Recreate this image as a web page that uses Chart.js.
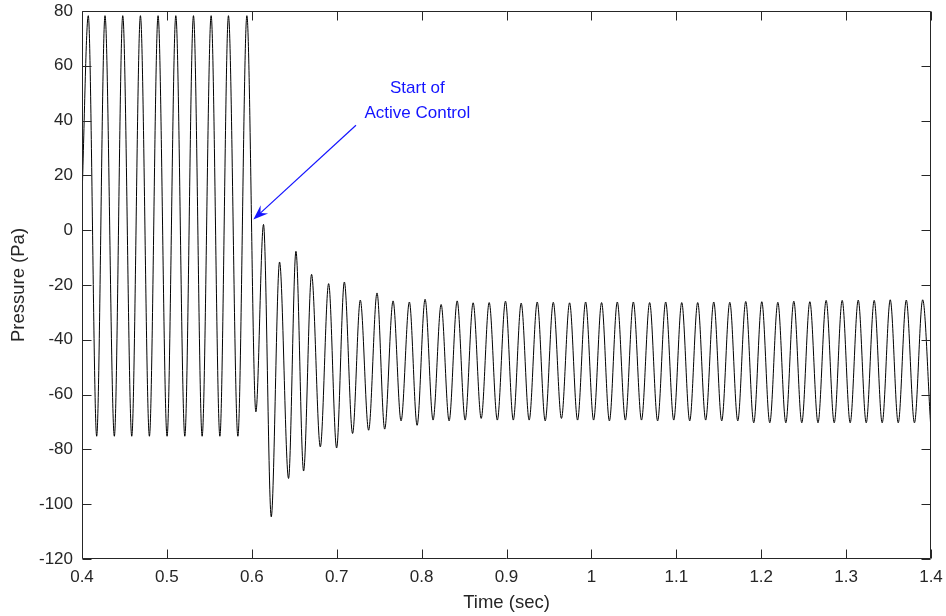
<!DOCTYPE html>
<html>
<head>
<meta charset="utf-8">
<script src="https://cdn.jsdelivr.net/npm/chart.js@4/dist/chart.umd.min.js"></script>
<style>
    html, body { margin: 0; padding: 0; background: #fff; }
    #wrap { width: 946px; height: 616px; }
</style>
</head>
<body>
<div id="wrap"><canvas id="pressureChart" width="946" height="616"></canvas></div>
<script>
// values: where the trace starts, then every peak and trough
const startTime = 0.4;
const startValue = 12;

const peakTimes = [
    0.4074, 0.4271, 0.4480, 0.4688, 0.4896, 0.5105, 0.5313, 0.5521, 0.5725, 0.5942,
    0.6138, 0.6327, 0.6520, 0.6704, 0.6905, 0.7090, 0.7278, 0.7475, 0.7664, 0.7856,
    0.8041, 0.8230, 0.8419, 0.8607, 0.8796, 0.8988, 0.9173, 0.9362, 0.9551, 0.9743,
    0.9932, 1.0120, 1.0305, 1.0494, 1.0686, 1.0875, 1.1064, 1.1252, 1.1441, 1.1630,
    1.1818, 1.2007, 1.2196, 1.2384, 1.2573, 1.2765, 1.2954, 1.3143, 1.3331, 1.3520,
    1.3709, 1.3902
];
const peakValues = [
    78.3, 78.3, 78.3, 78.3, 78.3, 78.3, 78.3, 78.3, 78.3, 78.3,
    2.1, -11.6, -7.7, -16.1, -19.5, -18.9, -25.5, -22.9, -25.8, -26.2,
    -25.2, -27.1, -25.8, -26.5, -26.4, -25.9, -26.6, -26.2, -26.3, -26.5,
    -26.2, -26.4, -26.2, -26.2, -26.4, -26.2, -26.4, -26.4, -26.2, -26.3,
    -26.0, -26.1, -26.3, -25.9, -26.1, -25.6, -25.6, -25.5, -25.6, -25.4,
    -25.5, -25.4
];

const troughTimes = [
    0.4173, 0.4381, 0.4586, 0.4794, 0.5002, 0.5211, 0.5415, 0.5624, 0.5836, 0.6048,
    0.6229, 0.6433, 0.6610, 0.6807, 0.6999, 0.7187, 0.7376, 0.7565, 0.7758, 0.7947,
    0.8135, 0.8324, 0.8513, 0.8702, 0.8892, 0.9080, 0.9267, 0.9456, 0.9647, 0.9837,
    1.0026, 1.0212, 1.0400, 1.0590, 1.0780, 1.0970, 1.1158, 1.1346, 1.1535, 1.1724,
    1.1912, 1.2101, 1.2290, 1.2478, 1.2669, 1.2860, 1.3048, 1.3237, 1.3425, 1.3614,
    1.3805, 1.3995
];
const troughValues = [
    -75.2, -75.2, -75.2, -75.2, -75.2, -75.2, -75.2, -75.2, -75.2, -66.3,
    -104.6, -90.6, -87.9, -79.1, -79.5, -74.2, -73.0, -72.6, -69.6, -71.2,
    -69.3, -69.6, -69.3, -68.7, -69.3, -69.3, -69.3, -69.6, -68.7, -69.3,
    -69.3, -69.6, -69.3, -69.3, -69.6, -69.3, -69.6, -69.3, -69.6, -69.6,
    -70.3, -70.3, -70.3, -70.3, -70.3, -70.3, -70.3, -70.3, -70.3, -70.3,
    -70.3, -70.6
];

const xTicks = [0.4, 0.5, 0.6, 0.7, 0.8, 0.9, 1.0, 1.1, 1.2, 1.3, 1.4];
const xTickLabels = ['0.4', '0.5', '0.6', '0.7', '0.8', '0.9', '1', '1.1', '1.2', '1.3', '1.4'];
const yTicks = [-120, -100, -80, -60, -40, -20, 0, 20, 40, 60, 80];
const yTickLabels = ['-120', '-100', '-80', '-60', '-40', '-20', '0', '20', '40', '60', '80'];

// annotation anchors, in data units
const noteLines = ['Start of', 'Active Control'];
const noteX = 0.795;
const noteY = [51.7, 42.6];
const arrowFrom = { x: 0.7227, y: 38.3 };
const arrowTo = { x: 0.6018, y: 3.9 };

const axisColor = '#262626';
const noteColor = '#1414ff';
const fontFamily = '"Liberation Sans", Arial, Helvetica, sans-serif';

Chart.defaults.font.family = fontFamily;

// one time-ordered trace from the start point, peaks and troughs
const trace = [{ x: startTime, y: startValue }];
peakTimes.forEach((t, i) => trace.push({ x: t, y: peakValues[i] }));
troughTimes.forEach((t, i) => trace.push({ x: t, y: troughValues[i] }));
trace.sort((a, b) => a.x - b.x);

// box round the plot with inward ticks on all four sides, like matlab
const boxAxes = {
    id: 'boxAxes',
    afterDraw(chart) {
        const { ctx, chartArea: a, scales: { x, y } } = chart;
        const len = 9;
        const l = Math.round(a.left) + 0.5, r = Math.round(a.right) - 0.5;
        const t = Math.round(a.top) + 0.5, b = Math.round(a.bottom) - 0.5;
        ctx.save();
        ctx.strokeStyle = axisColor;
        ctx.lineWidth = 1;
        ctx.beginPath();
        ctx.rect(l, t, r - l, b - t);
        xTicks.forEach(v => {
            const px = Math.round(x.getPixelForValue(v)) + 0.5;
            ctx.moveTo(px, b); ctx.lineTo(px, b - len);
            ctx.moveTo(px, t); ctx.lineTo(px, t + len);
        });
        yTicks.forEach(v => {
            const py = Math.round(y.getPixelForValue(v)) + 0.5;
            ctx.moveTo(l, py); ctx.lineTo(l + len, py);
            ctx.moveTo(r, py); ctx.lineTo(r - len, py);
        });
        ctx.stroke();
        ctx.restore();
    }
};

// "Start of Active Control" text and arrow
const noteArrow = {
    id: 'noteArrow',
    afterDraw(chart) {
        const { ctx, scales: { x, y } } = chart;
        ctx.save();
        ctx.fillStyle = noteColor;
        ctx.strokeStyle = noteColor;
        ctx.font = '17px ' + fontFamily;
        ctx.textAlign = 'center';
        ctx.textBaseline = 'middle';
        noteLines.forEach((s, i) => ctx.fillText(s, x.getPixelForValue(noteX), y.getPixelForValue(noteY[i])));

        const x0 = x.getPixelForValue(arrowFrom.x), y0 = y.getPixelForValue(arrowFrom.y);
        const x1 = x.getPixelForValue(arrowTo.x), y1 = y.getPixelForValue(arrowTo.y);
        const d = Math.hypot(x1 - x0, y1 - y0);
        const ux = (x1 - x0) / d, uy = (y1 - y0) / d;
        const nx = -uy, ny = ux;
        const L = 15, W = 5.5;
        ctx.lineWidth = 1.2;
        ctx.beginPath();
        ctx.moveTo(x0, y0);
        ctx.lineTo(x1 - ux * 8, y1 - uy * 8);
        ctx.stroke();
        ctx.beginPath();
        ctx.moveTo(x1, y1);
        ctx.lineTo(x1 - ux * L + nx * W, y1 - uy * L + ny * W);
        ctx.lineTo(x1 - ux * L * 0.65, y1 - uy * L * 0.65);
        ctx.lineTo(x1 - ux * L - nx * W, y1 - uy * L - ny * W);
        ctx.closePath();
        ctx.fill();
        ctx.restore();
    }
};

new Chart(document.getElementById('pressureChart'), {
    type: 'line',
    data: {
        datasets: [{
            data: trace,
            borderColor: '#000000',
            borderWidth: 1,
            pointRadius: 0,
            fill: false,
            cubicInterpolationMode: 'monotone'
        }]
    },
    options: {
        responsive: false,
        animation: false,
        layout: { padding: { top: 11, right: 15, left: 0, bottom: 0 } },
        plugins: {
            legend: { display: false },
            tooltip: { enabled: false }
        },
        scales: {
            x: {
                type: 'linear',
                min: 0.4,
                max: 1.4,
                afterBuildTicks: s => { s.ticks = xTicks.map(v => ({ value: v })); },
                afterFit: s => { s.height = 57; s.paddingLeft = 0; s.paddingRight = 0; },
                grid: { display: false, drawTicks: false },
                border: { display: false },
                ticks: {
                    padding: 8,
                    color: axisColor,
                    maxRotation: 0,
                    autoSkip: false,
                    font: { size: 17 },
                    callback: v => xTickLabels[xTicks.indexOf(v)]
                },
                title: {
                    display: true,
                    text: 'Time (sec)',
                    color: axisColor,
                    font: { size: 18.5 },
                    padding: { top: 0, bottom: 2 }
                }
            },
            y: {
                type: 'linear',
                min: -120,
                max: 80,
                afterBuildTicks: s => { s.ticks = yTicks.map(v => ({ value: v })); },
                afterFit: s => { s.width = 82; s.paddingTop = 0; s.paddingBottom = 0; },
                grid: { display: false, drawTicks: false },
                border: { display: false },
                ticks: {
                    padding: 9,
                    color: axisColor,
                    autoSkip: false,
                    font: { size: 17 },
                    callback: v => yTickLabels[yTicks.indexOf(v)]
                },
                title: {
                    display: true,
                    text: 'Pressure (Pa)',
                    color: axisColor,
                    font: { size: 18.5 },
                    padding: { top: 8, bottom: 0 }
                }
            }
        }
    },
    plugins: [boxAxes, noteArrow]
});
</script>
</body>
</html>
